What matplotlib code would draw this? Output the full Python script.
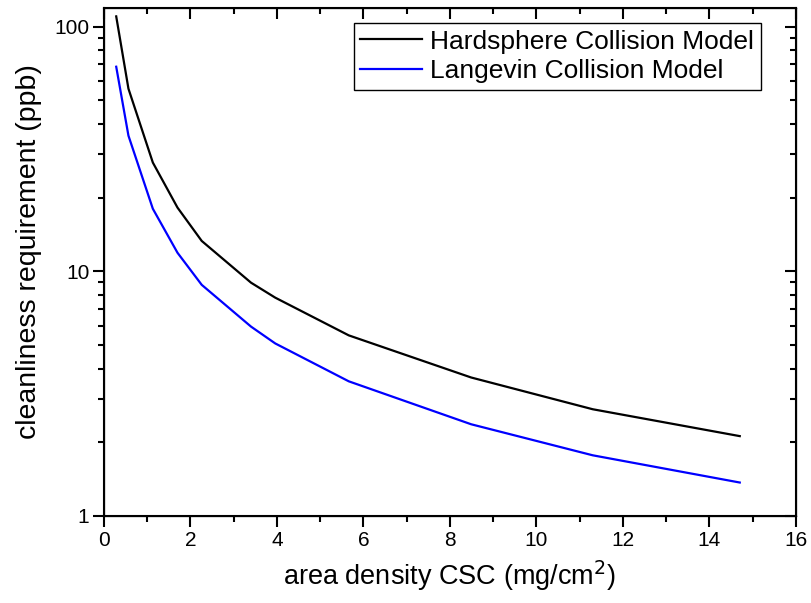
import numpy as np
import matplotlib
matplotlib.use('Agg')
import matplotlib.pyplot as plt
from matplotlib.ticker import LogLocator, FixedLocator, NullFormatter, FixedFormatter

plt.rcParams['font.family'] = ['Liberation Sans', 'DejaVu Sans']

# area density values (mg/cm^2)
density = [0.283, 0.566, 1.13, 1.70, 2.26, 3.40, 3.96, 5.66, 8.49, 11.3, 14.7]
# cleanliness requirement (ppb)
hardsphere = [110, 55.7, 27.8, 18.2, 13.3, 8.98, 7.8, 5.47, 3.68, 2.73, 2.12]
langevin = [68.5, 35.8, 18.0, 11.9, 8.8, 5.94, 5.07, 3.55, 2.37, 1.77, 1.37]

fig = plt.figure(figsize=(8.11, 6.03), dpi=100)
ax = fig.add_axes([0.1282, 0.1443, 0.8533, 0.8424])

ax.plot(density, hardsphere, color='black', lw=1.6, label='Hardsphere Collision Model')
ax.plot(density, langevin, color='blue', lw=1.6, label='Langevin Collision Model')

ax.set_yscale('log')
ax.set_xlim(0, 16)
ax.set_ylim(1, 119)

ax.xaxis.set_major_locator(FixedLocator(np.arange(0, 17, 2)))
ax.xaxis.set_minor_locator(FixedLocator(np.arange(1, 16, 2)))
ax.yaxis.set_major_locator(FixedLocator([1, 10, 100]))
ax.yaxis.set_major_formatter(FixedFormatter(['1', '10', '100']))
ax.yaxis.set_minor_locator(LogLocator(base=10, subs=np.arange(2, 10)))
ax.yaxis.set_minor_formatter(NullFormatter())

for s in ax.spines.values():
    s.set_linewidth(1.5)

ax.tick_params(which='both', direction='out', width=1.5, labelsize=15, top=False, right=False)
ax.tick_params(which='major', length=8, pad=2.5)
ax.tick_params(which='minor', length=4.5)

# inward ticks on the top and right
ax2 = ax.twinx()
ax2.set_yscale('log')
ax2.set_ylim(ax.get_ylim())
ax2.yaxis.set_major_locator(FixedLocator([1, 10, 100]))
ax2.yaxis.set_minor_locator(LogLocator(base=10, subs=np.arange(2, 10)))
ax2.tick_params(which='both', direction='in', width=1.5, labelright=False)
ax2.tick_params(which='major', length=8)
ax2.tick_params(which='minor', length=4.5)
ax3 = ax.twiny()
ax3.set_xlim(ax.get_xlim())
ax3.xaxis.set_major_locator(FixedLocator(np.arange(0, 17, 2)))
ax3.xaxis.set_minor_locator(FixedLocator(np.arange(1, 16, 2)))
ax3.tick_params(which='both', direction='in', width=1.5, labeltop=False)
ax3.tick_params(which='major', length=8)
ax3.tick_params(which='minor', length=4.5)

ax.set_xlabel('area density CSC (mg/cm$^2$)', fontsize=19.5)
ax.set_ylabel('cleanliness requirement (ppb)', fontsize=20.5)
ax.xaxis.set_label_coords(0.5, -0.083)
ax.yaxis.set_label_coords(-0.09, 0.52)

leg = ax.legend(loc='upper center', bbox_to_anchor=(0.655, 0.9705), fontsize=19,
                fancybox=False, edgecolor='black', handlelength=2.35, handletextpad=0.3,
                borderaxespad=0, borderpad=0.25, labelspacing=0.22, framealpha=1)
leg.get_frame().set_linewidth(1.0)
ax3.set_zorder(-1)
ax2.set_zorder(-1)
ax.patch.set_visible(False)

fig.savefig('out.png', dpi=100)
